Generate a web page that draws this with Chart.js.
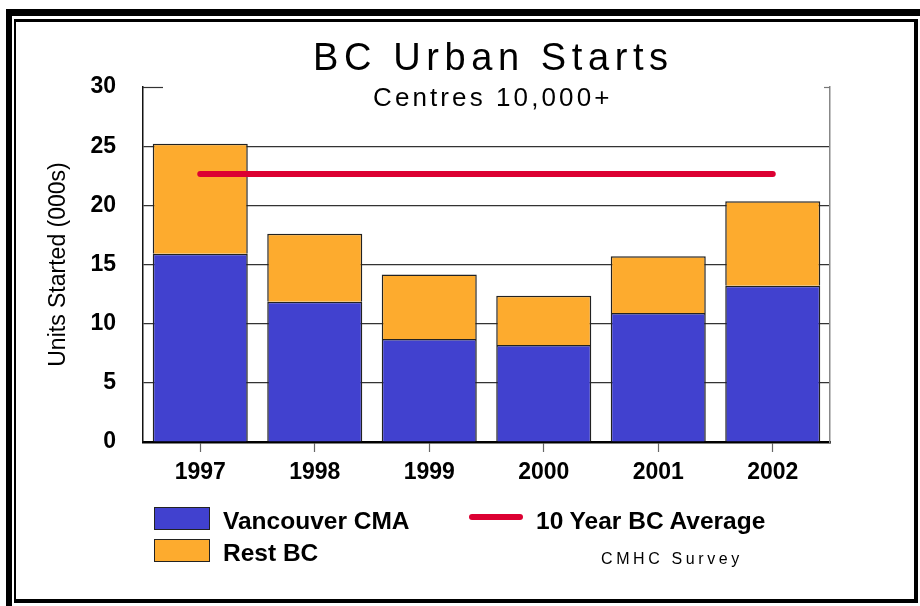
<!DOCTYPE html>
<html>
<head>
<meta charset="utf-8">
<script src="https://cdn.jsdelivr.net/npm/chart.js@4"></script>
<style>
  html, body { margin: 0; padding: 0; background: #fff; }
  body { width: 920px; height: 606px; position: relative; overflow: hidden;
         font-family: 'Liberation Sans', Arial, sans-serif; color: #000; }
  #chart { position: absolute; left: 0; top: 0; }
  .frame-outer { position: absolute; left: 6px; top: 9px; width: 914px; height: 597px;
                 border-top: 7px solid #000; border-left: 6px solid #000; box-sizing: border-box; }
  .frame-inner { position: absolute; left: 14px; top: 19px; width: 904px; height: 584px;
                 border-top: 3px solid #000; border-left: 2px solid #000;
                 border-right: 4px solid #000; border-bottom: 4px solid #000; box-sizing: border-box; }
  .txt { position: absolute; white-space: nowrap; }
  #title { left: 313px; top: 38px; font-size: 38px; line-height: 38px; letter-spacing: 5.6px; }
  #subtitle { left: 373px; top: 84px; font-size: 26px; line-height: 26px; letter-spacing: 3.1px; }
  #source { left: 601px; top: 551px; font-size: 16px; line-height: 16px; letter-spacing: 3.6px; }
  .leg { font-size: 24.5px; line-height: 24px; font-weight: bold; }
  .swatch { position: absolute; width: 56px; height: 23px; box-sizing: border-box; border: 1px solid #222; }
  .legline { position: absolute; height: 6px; border-radius: 3px; }
</style>
</head>
<body>
<canvas id="chart" width="920" height="606"></canvas>
<div class="frame-outer"></div>
<div class="frame-inner"></div>

<div class="txt" id="title">BC Urban Starts</div>
<div class="txt" id="subtitle">Centres 10,000+</div>

<div id="legend"></div>
<div class="txt" id="source">CMHC Survey</div>

<script>
// values, thousands of units
const years      = ['1997', '1998', '1999', '2000', '2001', '2002'];
const vancouver  = [15.9, 11.85, 8.7, 8.2, 10.9, 13.2];
const restBC     = [9.3, 5.75, 5.45, 4.15, 4.8, 7.15];
const avg10Year  = [22.65, 22.65, 22.65, 22.65, 22.65, 22.65];

const yMin  = 0;
const yMax  = 30;
const yStep = 5;

const BLUE   = '#4141cf';
const ORANGE = '#fdab2e';
const RED    = '#dc0032';
const FONT   = "'Liberation Sans', Arial, sans-serif";

// short stubs at the top of the plot (top gridline is not drawn full width)
const topStubs = {
  id: 'topStubs',
  afterDraw(chart) {
    const { ctx, chartArea } = chart;
    const y = Math.round(chart.scales.y.getPixelForValue(yMax)) + 0.5;
    ctx.save();
    ctx.lineWidth = 1.2;
    ctx.strokeStyle = '#333';
    ctx.beginPath();
    ctx.moveTo(chartArea.left, y);
    ctx.lineTo(chartArea.left + 20, y);
    ctx.stroke();
    ctx.strokeStyle = '#777';
    ctx.beginPath();
    ctx.moveTo(chartArea.right - 6, y);
    ctx.lineTo(chartArea.right, y);
    ctx.stroke();
    ctx.restore();
  }
};

const ctx = document.getElementById('chart').getContext('2d');
new Chart(ctx, {
  data: {
    labels: years,
    datasets: [
      {
        type: 'line',
        label: '10 Year BC Average',
        data: avg10Year,
        stack: 'avg',
        borderColor: RED,
        borderWidth: 6,
        borderCapStyle: 'round',
        pointRadius: 0,
        fill: false,
        order: 0,
      },
      {
        type: 'bar',
        label: 'Vancouver CMA',
        data: vancouver,
        stack: 'starts',
        backgroundColor: BLUE,
        borderColor: '#222',
        borderWidth: 1.5,
        barPercentage: 0.83,
        categoryPercentage: 1,
        order: 1,
      },
      {
        type: 'bar',
        label: 'Rest BC',
        data: restBC,
        stack: 'starts',
        backgroundColor: ORANGE,
        borderColor: '#222',
        borderWidth: 1.5,
        barPercentage: 0.83,
        categoryPercentage: 1,
        order: 1,
      },
    ]
  },
  options: {
    responsive: false,
    animation: false,
    events: [],
    layout: { padding: { left: 0, top: 87, right: 90, bottom: 0 } },
    plugins: {
      legend: { display: false },
      title: { display: false },
      tooltip: { enabled: false },
    },
    scales: {
      x: {
        stacked: true,
        offset: true,
        grid: {
          offset: false,
          drawOnChartArea: false,
          drawTicks: true,
          tickLength: 10,
          tickColor: '#666',
          tickWidth: 1.2,
        },
        border: { color: '#000', width: 2.5 },
        ticks: {
          color: '#000',
          padding: 7,
          font: { family: FONT, size: 23, weight: 'bold' },
        },
        afterFit(scale) { scale.height = 164; },
      },
      y: {
        stacked: true,
        min: yMin,
        max: yMax,
        grid: {
          drawTicks: false,
          color: ctx => (ctx.tick && (ctx.tick.value === yMax || ctx.tick.value === yMin)) ? 'rgba(0,0,0,0)' : '#333',
          lineWidth: 1.2,
        },
        border: { color: '#111', width: 1.5 },
        ticks: {
          stepSize: yStep,
          color: '#000',
          padding: 27,
          font: { family: FONT, size: 23, weight: 'bold' },
        },
        title: {
          display: true,
          text: 'Units Started (000s)',
          color: '#000',
          padding: { top: 45, bottom: 0 },
          font: { family: FONT, size: 23, weight: 'normal' },
        },
        afterFit(scale) { scale.width = 143; },
      },
      y2: {
        position: 'right',
        min: yMin,
        max: yMax,
        grid: { drawOnChartArea: false, drawTicks: false },
        border: { color: '#888', width: 1.5 },
        ticks: { display: false },
        afterFit(scale) { scale.width = 0; },
      },
    }
  },
  plugins: [topStubs],
});

// Render legend
const legendItems = [
  { kind: 'box',  color: BLUE,   label: 'Vancouver CMA',      x: 154, y: 507, tx: 223, ty: 509 },
  { kind: 'box',  color: ORANGE, label: 'Rest BC',            x: 154, y: 539, tx: 223, ty: 541 },
  { kind: 'line', color: RED,    label: '10 Year BC Average', x: 469, y: 514, tx: 536, ty: 509 },
];
const legend = document.getElementById('legend');
legendItems.forEach(item => {
  const mark = document.createElement('div');
  if (item.kind === 'box') {
    mark.className = 'swatch';
  } else {
    mark.className = 'legline';
    mark.style.width = '54px';
  }
  mark.style.left = item.x + 'px';
  mark.style.top = item.y + 'px';
  mark.style.background = item.color;
  const label = document.createElement('div');
  label.className = 'txt leg';
  label.style.left = item.tx + 'px';
  label.style.top = item.ty + 'px';
  label.textContent = item.label;
  legend.appendChild(mark);
  legend.appendChild(label);
});
</script>
</body>
</html>
